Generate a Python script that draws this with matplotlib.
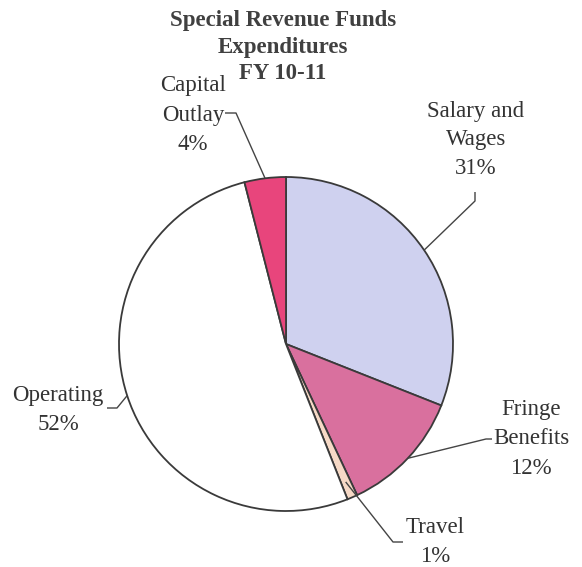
import numpy as np
import matplotlib
matplotlib.use("Agg")
import matplotlib.pyplot as plt

categories = ["Salary and\nWages", "Fringe\nBenefits", "Travel", "Operating", "Capital\nOutlay"]
shares = [31, 12, 1, 52, 4]
colors = ["#cfd1ef", "#d9709e", "#f6d9c6", "#ffffff", "#e8457c"]

W, H = 582, 567
fig = plt.figure(figsize=(W / 100, H / 100), dpi=100)
ax = fig.add_axes([0, 0, 1, 1])

cx, cy, R = 286, H - 344, 167
wedges, _ = ax.pie(shares, colors=colors, startangle=90, counterclock=False,
                   center=(cx, cy), radius=R,
                   wedgeprops=dict(edgecolor="#3a3a3a", linewidth=1.3))
ax.set_xlim(0, W)
ax.set_ylim(0, H)
ax.set_aspect("equal")
ax.axis("off")

serif = ["Liberation Serif", "DejaVu Serif"]
ax.text(283, H - 47, "Special Revenue Funds\nExpenditures\nFY 10-11", ha="center", va="center",
        fontsize=16.5, fontweight="bold", family=serif, color="#404040", linespacing=1.35)

# label block centre (pixel, y down), leader elbow points (pixel, y down), anchor radius factor
label_pos = [(476, 140), (531, 439), (435, 542), (58, 410), (193, 115)]
elbows = [[(475, 192), (475, 201)],
          [(492, 439), (486, 439)],
          [(403, 542), (393, 542)],
          [(107, 408), (117, 408)],
          [(225, 113), (236, 113)]]
anchor_r = [1.0, 1.0, 0.9, 1.0, 1.0]

for w, lab, pct, (lx, ly), elb, ar in zip(wedges, categories, shares, label_pos, elbows, anchor_r):
    ax.text(lx, H - ly, f"{lab}\n{pct}%", ha="center", va="center", fontsize=16.5,
            family=serif, color="#333333", linespacing=1.5)
    mid = np.deg2rad((w.theta1 + w.theta2) / 2)
    axp = cx + R * ar * np.cos(mid)
    ayp = cy + R * ar * np.sin(mid)
    xs = [e[0] for e in elb] + [axp]
    ys = [H - e[1] for e in elb] + [ayp]
    ax.plot(xs, ys, color="#444444", lw=1.0, solid_capstyle="butt")

fig.savefig("out.png", dpi=100)
